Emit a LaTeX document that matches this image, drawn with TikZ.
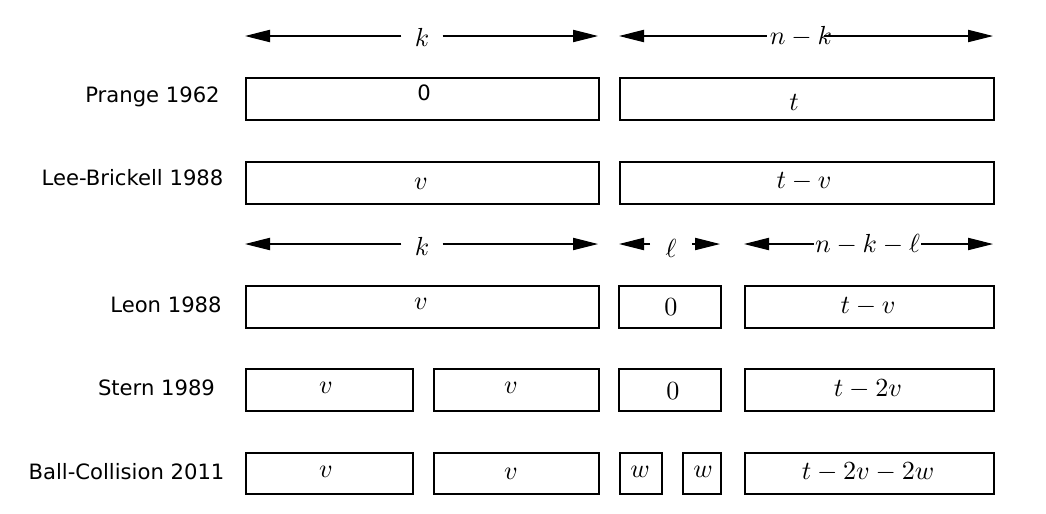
\RequirePackage{fix-cm}
\documentclass[tikz,border=0pt]{standalone}
\usepackage{fontspec}
\newfontfamily\lblfont{DejaVu Sans}
\usetikzlibrary{arrows.meta}
\begin{document}
\begin{tikzpicture}[x=0.44pt,y=-0.44pt,
  font=\fontsize{11.5}{14}\selectfont,
  cell/.style 2 args={draw, line width=0.7pt, minimum width=#1*0.44pt, minimum height=#2*0.44pt, inner sep=0pt, anchor=north west},
  algo/.style={font=\lblfont\fontsize{9.3}{11}\selectfont, inner sep=0pt},
  dimlbl/.style={inner sep=#1*0.44pt},
  dim/.style={line width=0.45pt, -{Triangle[length=11pt,width=5.4pt]}}
]
\useasboundingbox (0,0) rectangle (1046,513);

% ---------- top dimension arrows ----------
\coordinate (kL1) at (245,36);
\coordinate (kR1) at (598,36);
\node[dimlbl=13] (kT1) at (422,37) {$k$};
\draw[dim] (kT1.west |- kL1) -- (kL1);
\draw[dim] (kT1.east |- kR1) -- (kR1);

\coordinate (nkL) at (619,36);
\coordinate (nkR) at (993,36);
\node[dimlbl=3] (nkT) at (801,37) {$n-k$};
\draw[dim] (nkT.west |- nkL) -- (nkL);
\draw[dim, shorten <=-5pt] (nkT.east |- nkR) -- (nkR);

% ---------- Prange ----------
\node[algo] (lp) at (152.5,97) {Prange 1962};
\node[cell={353}{42}] (p1) at (245,77) {};
\node[font=\lblfont\fontsize{9.3}{11}\selectfont] (p1t) at (424,93) {0};
\node[cell={374}{42}] (p2) at (619,77) {};
\node (p2t) at (794,102) {$t$};

% ---------- Lee-Brickell ----------
\node[algo] (llb) at (132.5,178) {Lee-Brickell 1988};
\node[cell={353}{42}] (lb1) at (245,161) {};
\node (lb1t) at (421,184) {$v$};
\node[cell={374}{42}] (lb2) at (619,161) {};
\node (lb2t) at (804,182) {$t-v$};

% ---------- second dimension arrows ----------
\coordinate (kL2) at (245,244);
\coordinate (kR2) at (598,244);
\node[dimlbl=13] (kT2) at (422,246) {$k$};
\draw[dim] (kT2.west |- kL2) -- (kL2);
\draw[dim] (kT2.east |- kR2) -- (kR2);

\coordinate (lL) at (619,244);
\coordinate (lR) at (720,244);
\node[dimlbl=15] (lT) at (671,248) {$\ell$};
\draw[dim] (lT.west |- lL) -- (lL);
\draw[dim] (lT.east |- lR) -- (lR);

\coordinate (rL) at (744,244);
\coordinate (rR) at (993,244);
\node[dimlbl=1] (rT) at (867.5,245) {$n-k-\ell$};
\draw[dim] (rT.west |- rL) -- (rL);
\draw[dim] (rT.east |- rR) -- (rR);

% ---------- Leon ----------
\node[algo] (ll) at (166,305) {Leon 1988};
\node[cell={353}{42}] (le1) at (245,285) {};
\node (le1t) at (421,304) {$v$};
\node[cell={102}{42}] (le2) at (618,285) {};
\node (le2t) at (671,307) {$0$};
\node[cell={249}{42}] (le3) at (744,285) {};
\node (le3t) at (868,307) {$t-v$};

% ---------- Stern ----------
\node[algo] (ls) at (156.5,388) {Stern 1989};
\node[cell={167}{42}] (s1) at (245,368) {};
\node (s1t) at (326,388) {$v$};
\node[cell={165}{42}] (s2) at (433,368) {};
\node (s2t) at (511,388) {$v$};
\node[cell={102}{42}] (s3) at (618,368) {};
\node (s3t) at (673,391) {$0$};
\node[cell={249}{42}] (s4) at (744,368) {};
\node (s4t) at (868,389) {$t-2v$};

% ---------- Ball-Collision ----------
\node[algo] (lbc) at (126.5,472) {Ball-Collision 2011};
\node[cell={167}{41}] (b1) at (245,452) {};
\node (b1t) at (326,472) {$v$};
\node[cell={165}{41}] (b2) at (433,452) {};
\node (b2t) at (511,474) {$v$};
\node[cell={42}{41}] (b3) at (619,452) {};
\node (b3t) at (640,472) {$w$};
\node[cell={38}{41}] (b4) at (682,452) {};
\node (b4t) at (703,472) {$w$};
\node[cell={249}{41}] (b5) at (744,452) {};
\node (b5t) at (868,472) {$t-2v-2w$};
\end{tikzpicture}
\end{document}
